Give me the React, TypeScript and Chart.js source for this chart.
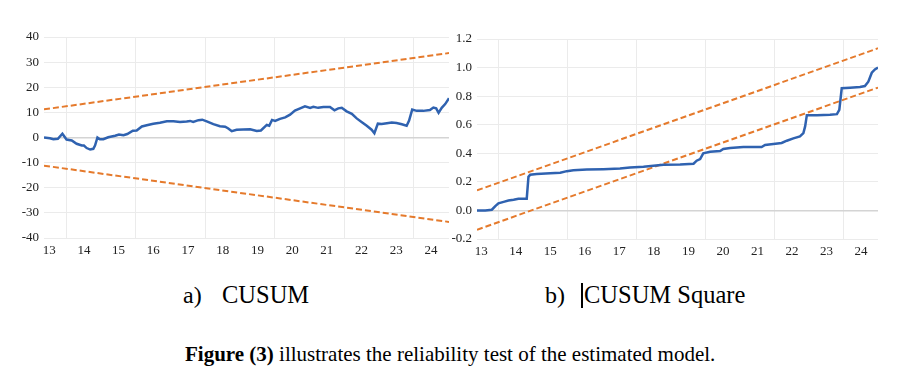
import React, { useEffect, useRef } from "react";
import { Chart, registerables } from "chart.js";

Chart.register(...registerables);

// ---- Data ----
const YEAR_TICKS = [13, 14, 15, 16, 17, 18, 19, 20, 21, 22, 23, 24];
const GRID_YEARS = [13.5, 15.5, 17.5, 19.5, 21.5, 23.5];

const CUSUM_Y_TICKS = [-40, -30, -20, -10, 0, 10, 20, 30, 40];
const CUSUM_T = [
  12.85, 13.02, 13.12, 13.25, 13.38, 13.5, 13.65, 13.79, 13.94, 14.0, 14.08, 14.18, 14.27, 14.32, 14.39,
  14.46, 14.56, 14.7, 14.9, 15.01, 15.14, 15.25, 15.41, 15.52, 15.67, 15.81, 16.0, 16.19, 16.39, 16.58,
  16.77, 16.96, 17.06, 17.15, 17.3, 17.41, 17.54, 17.73, 17.92, 18.07, 18.16, 18.26, 18.4, 18.59, 18.79,
  18.98, 19.1, 19.27, 19.34, 19.42, 19.51, 19.65, 19.8, 19.94, 20.08, 20.23, 20.37, 20.52, 20.61, 20.75,
  20.9, 21.09, 21.22, 21.33, 21.43, 21.57, 21.72, 21.86, 22.01, 22.15, 22.29, 22.37, 22.47, 22.58, 22.73,
  22.87, 23.01, 23.16, 23.3, 23.37, 23.46, 23.59, 23.78, 23.97, 24.07, 24.15, 24.22, 24.31, 24.41, 24.52,
];
const CUSUM_V = [
  0, -0.3, -0.7, -0.5, 1.5, -0.8, -1.2, -2.5, -3.2, -3.2, -4.2, -4.8, -4.5, -3.2, 0,
  -0.7, -0.7, 0.1, 0.7, 1.2, 0.9, 1.4, 2.7, 2.8, 4.4, 4.9, 5.5, 5.9, 6.5, 6.5,
  6.2, 6.4, 6.6, 6.2, 6.9, 7.1, 6.4, 5.3, 4.5, 4.3, 3.6, 2.5, 3.1, 3.2, 3.3,
  2.6, 2.8, 5.0, 4.7, 7.0, 6.6, 7.4, 8.0, 9.1, 10.7, 11.6, 12.4, 11.8, 12.2, 11.8,
  12.1, 12.1, 10.8, 11.6, 11.8, 10.4, 9.4, 7.6, 6.1, 4.7, 3.1, 1.7, 5.5, 5.4, 5.7,
  6.0, 5.8, 5.3, 4.7, 6.7, 11.1, 10.6, 10.6, 10.9, 11.9, 11.6, 9.8, 11.8, 13.3, 15.6,
];
const CUSUM_BOUND_T = [12.85, 24.52];
const CUSUM_UPPER = [11.2, 33.6];
const CUSUM_LOWER = [-11.2, -33.6];

const SQ_Y_TICKS = [-0.2, 0, 0.2, 0.4, 0.6, 0.8, 1.0, 1.2];
const SQ_T = [
  12.88, 13.12, 13.31, 13.41, 13.5, 13.65, 13.79, 13.94, 14.08, 14.32, 14.37, 14.42, 14.61, 15.0, 15.29,
  15.48, 15.67, 16.06, 16.54, 17.02, 17.31, 17.7, 17.99, 18.28, 18.76, 19.15, 19.24, 19.34, 19.43, 19.63,
  19.92, 20.01, 20.21, 20.59, 21.12, 21.22, 21.46, 21.7, 21.85, 22.04, 22.23, 22.33, 22.38, 22.43, 22.72,
  23.1, 23.3, 23.37, 23.44, 23.68, 23.97, 24.11, 24.21, 24.31, 24.4, 24.49,
];
const SQ_V = [
  0.0, 0.0, 0.005, 0.03, 0.05, 0.06, 0.07, 0.075, 0.082, 0.082, 0.235, 0.25, 0.255, 0.26, 0.264,
  0.275, 0.282, 0.286, 0.289, 0.294, 0.3, 0.305, 0.312, 0.319, 0.322, 0.327, 0.348, 0.36, 0.4, 0.41,
  0.416, 0.43, 0.437, 0.444, 0.444, 0.458, 0.465, 0.472, 0.488, 0.504, 0.518, 0.541, 0.588, 0.667, 0.667,
  0.669, 0.674, 0.704, 0.855, 0.859, 0.864, 0.871, 0.901, 0.964, 0.987, 1.0,
];
const SQ_BOUND_T = [12.88, 24.49];
const SQ_UPPER = [0.14, 1.135];
const SQ_LOWER = [-0.135, 0.86];

const BLUE = "#2f62b0";
const ORANGE = "#e57a2c";
const GRID = "#ebebeb";
const ZERO = "#d4d4d4";
const FONT = "'Liberation Serif', 'Times New Roman', serif";

const pts = (xs: number[], ys: number[]) => xs.map((x, i) => ({ x, y: ys[i] }));

type Cfg = {
  width: number;
  height: number;
  yWidth: number;
  padTop: number;
  padRight: number;
  xHeight: number;
  xMin: number;
  xMax: number;
  yTicks: number[];
  fmt: (v: number) => string;
  t: number[];
  v: number[];
  bt: number[];
  up: number[];
  lo: number[];
};

function LineChart({ cfg }: { cfg: Cfg }) {
  const ref = useRef<HTMLCanvasElement | null>(null);
  useEffect(() => {
    if (!ref.current) return;
    const yMin = cfg.yTicks[0];
    const yMax = cfg.yTicks[cfg.yTicks.length - 1];
    const xTickVals = [...YEAR_TICKS, ...GRID_YEARS].sort((a, b) => a - b);
    const chart = new Chart(ref.current, {
      type: "line",
      data: {
        datasets: [
          {
            data: pts(cfg.t, cfg.v),
            borderColor: BLUE,
            borderWidth: 2.5,
            pointRadius: 0,
            tension: 0,
            order: 0,
          },
          {
            data: pts(cfg.bt, cfg.up),
            borderColor: ORANGE,
            borderWidth: 2,
            borderDash: [6, 3],
            pointRadius: 0,
            order: 1,
          },
          {
            data: pts(cfg.bt, cfg.lo),
            borderColor: ORANGE,
            borderWidth: 2,
            borderDash: [6, 3],
            pointRadius: 0,
            order: 1,
          },
        ],
      },
      options: {
        responsive: false,
        animation: false,
        events: [],
        layout: { padding: { left: 0, right: cfg.padRight, top: cfg.padTop, bottom: 0 } },
        plugins: { legend: { display: false }, tooltip: { enabled: false } },
        scales: {
          x: {
            type: "linear",
            min: cfg.xMin,
            max: cfg.xMax,
            afterBuildTicks: (s: any) => {
              s.ticks = xTickVals.map((value) => ({ value }));
            },
            afterFit: (s: any) => {
              s.height = cfg.xHeight;
            },
            border: { display: false },
            grid: {
              drawTicks: false,
              color: (c: any) => (c.tick && c.tick.value % 1 !== 0 ? GRID : "rgba(0,0,0,0)"),
              lineWidth: 1,
            },
            ticks: {
              autoSkip: false,
              maxRotation: 0,
              padding: 5,
              color: "#222",
              font: { family: FONT, size: 13 },
              callback: (v: any) => (Number(v) % 1 === 0 ? String(v) : ""),
            },
          },
          y: {
            type: "linear",
            min: yMin,
            max: yMax,
            afterBuildTicks: (s: any) => {
              s.ticks = cfg.yTicks.map((value) => ({ value }));
            },
            afterFit: (s: any) => {
              s.width = cfg.yWidth;
            },
            border: { display: false },
            grid: {
              drawTicks: false,
              color: (c: any) => (c.tick && Math.abs(c.tick.value) < 1e-9 ? ZERO : GRID),
              lineWidth: (c: any) => (c.tick && Math.abs(c.tick.value) < 1e-9 ? 1.6 : 1),
            },
            ticks: {
              padding: 5,
              color: "#222",
              font: { family: FONT, size: 13 },
              callback: (v: any) => cfg.fmt(Number(v)),
            },
          },
        },
      },
    } as any);
    return () => chart.destroy();
  }, [cfg]);
  return (
    <canvas
      ref={ref}
      width={cfg.width}
      height={cfg.height}
      style={{ width: cfg.width, height: cfg.height, display: "block" }}
    />
  );
}

const LEFT_CFG: Cfg = {
  width: 452,
  height: 270,
  yWidth: 44,
  padTop: 37,
  padRight: 3,
  xHeight: 32,
  xMin: CUSUM_BOUND_T[0],
  xMax: CUSUM_BOUND_T[1],
  yTicks: CUSUM_Y_TICKS,
  fmt: (v) => String(Math.round(v)),
  t: CUSUM_T,
  v: CUSUM_V,
  bt: CUSUM_BOUND_T,
  up: CUSUM_UPPER,
  lo: CUSUM_LOWER,
};

const RIGHT_CFG: Cfg = {
  width: 458,
  height: 270,
  yWidth: 37,
  padTop: 39,
  padRight: 20,
  xHeight: 31,
  xMin: SQ_BOUND_T[0],
  xMax: SQ_BOUND_T[1],
  yTicks: SQ_Y_TICKS,
  fmt: (v) => v.toFixed(1),
  t: SQ_T,
  v: SQ_V,
  bt: SQ_BOUND_T,
  up: SQ_UPPER,
  lo: SQ_LOWER,
};

const textBase: React.CSSProperties = {
  position: "absolute",
  fontFamily: FONT,
  color: "#000",
  whiteSpace: "pre",
  margin: 0,
};

export default function App() {
  return (
    <div
      style={{
        position: "absolute",
        left: 0,
        top: 0,
        width: 898,
        height: 385,
        background: "#fff",
        overflow: "hidden",
      }}
    >
      <div style={{ position: "absolute", left: 0, top: 0 }}>
        <LineChart cfg={LEFT_CFG} />
      </div>
      <div style={{ position: "absolute", left: 440, top: 0 }}>
        <LineChart cfg={RIGHT_CFG} />
      </div>
      <div style={{ ...textBase, left: 183, top: 283, fontSize: 24, lineHeight: "24px" }}>a)</div>
      <div style={{ ...textBase, left: 222, top: 283, fontSize: 24.5, lineHeight: "24px" }}>CUSUM</div>
      <div style={{ ...textBase, left: 545, top: 283, fontSize: 24, lineHeight: "24px" }}>b)</div>
      <div style={{ position: "absolute", left: 581, top: 283, width: 1.5, height: 25, background: "#000" }} />
      <div style={{ ...textBase, left: 584, top: 283, fontSize: 24.5, lineHeight: "24px" }}>CUSUM Square</div>
      <div style={{ ...textBase, left: 185, top: 344, fontSize: 21, lineHeight: "21px" }}>
        <b>Figure (3)</b> illustrates the reliability test of the estimated model.
      </div>
    </div>
  );
}
